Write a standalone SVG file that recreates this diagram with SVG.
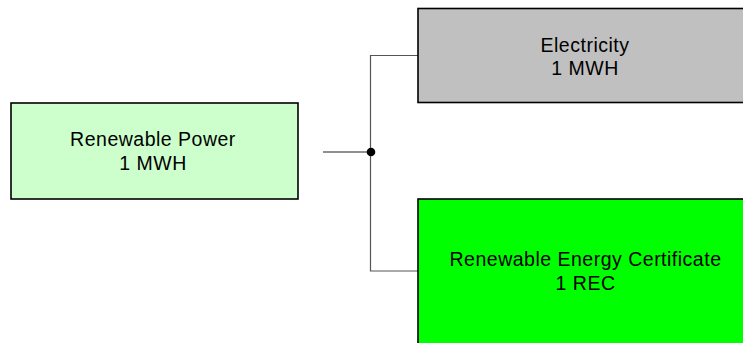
<svg xmlns="http://www.w3.org/2000/svg" width="743" height="343" viewBox="0 0 743 343">
<style>
.box{stroke:#000;stroke-width:1.6}
.t{font-family:"Liberation Sans",Arial,sans-serif;font-size:19.5px;fill:#000;text-anchor:middle;letter-spacing:0.5px}
.c{fill:none;stroke:#555;stroke-width:1.2}
</style>
<rect width="743" height="343" fill="#fff"/>
<g id="connectors">
<path class="c" d="M323,152H371" style="stroke:#222"/>
<path class="c" d="M418,55.5H370.5V271H418"/>
<circle cx="371" cy="152" r="4.3" fill="#000"/>
</g>
<g id="renewable-power">
<rect class="box" x="11" y="103" width="287" height="96" fill="#ccffcc"/>
<text class="t" x="153" y="146">Renewable Power</text>
<text class="t" x="153" y="170">1 MWH</text>
</g>
<g id="electricity">
<rect class="box" x="418" y="8.5" width="334" height="94" fill="#c0c0c0"/>
<text class="t" x="585" y="52">Electricity</text>
<text class="t" x="585" y="75">1 MWH</text>
</g>
<g id="rec">
<rect class="box" x="418" y="199" width="334" height="150" fill="#00ff00"/>
<text class="t" x="585.5" y="266">Renewable Energy Certificate</text>
<text class="t" x="585.5" y="290">1 REC</text>
</g>
</svg>
